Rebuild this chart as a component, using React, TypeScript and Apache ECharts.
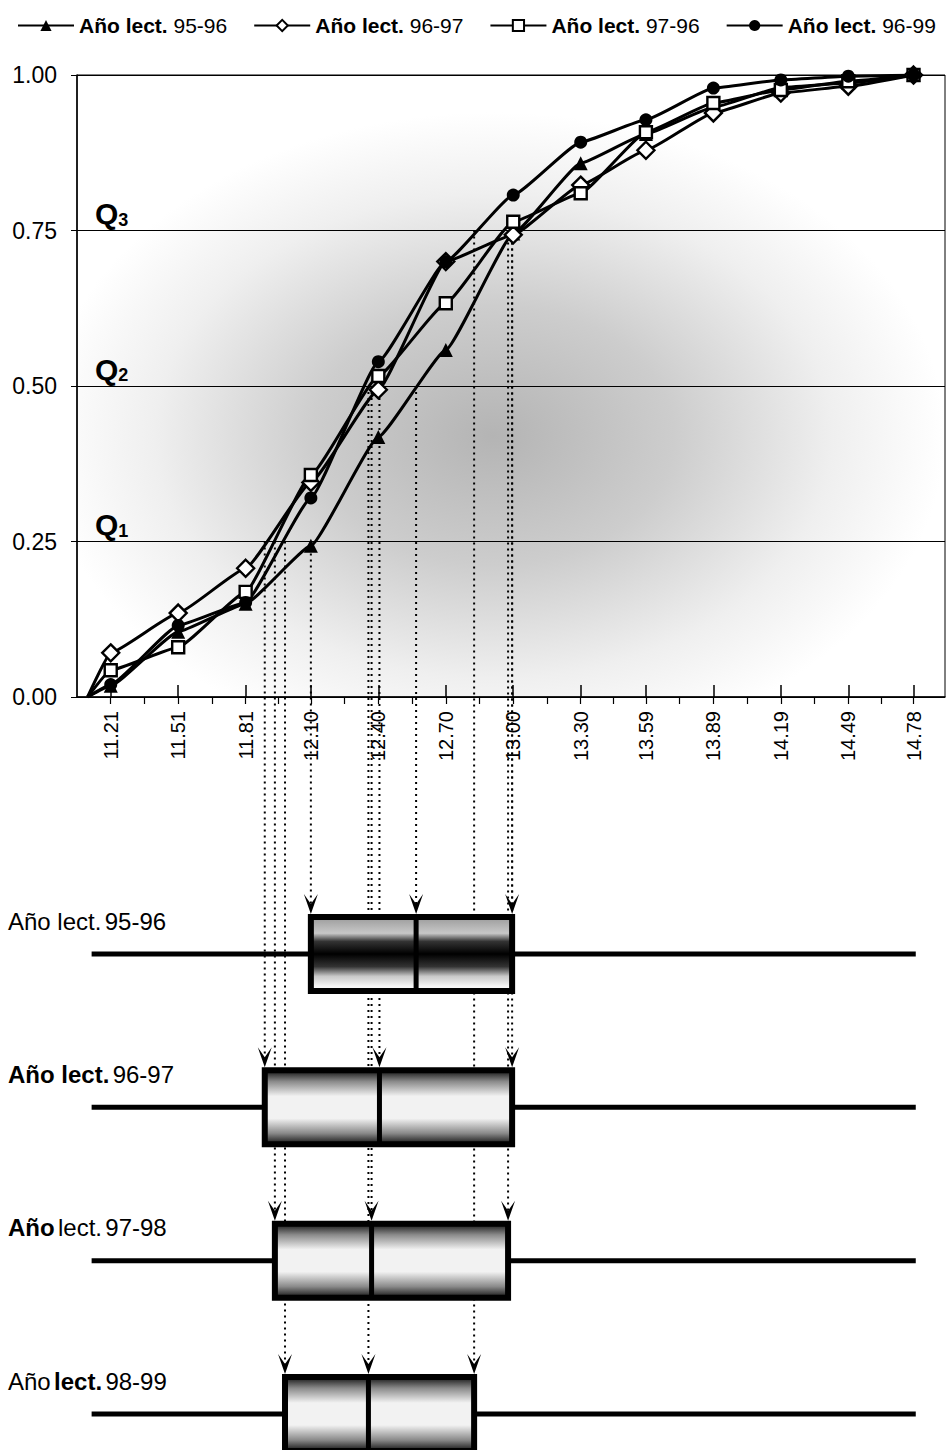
import React, { useEffect, useRef } from "react";
import * as echarts from "echarts";

// ---------- DATA ----------
const tickLabels = [11.21, 11.51, 11.81, 12.1, 12.4, 12.7, 13.0, 13.3, 13.59, 13.89, 14.19, 14.49, 14.78];
const originX = 11.107;
const seriesNames = ["Año lect. 95-96", "Año lect. 96-97", "Año lect. 97-96", "Año lect. 96-99"];
const cum9596 = [0.018, 0.105, 0.15, 0.243, 0.418, 0.558, 0.745, 0.858, 0.905, 0.948, 0.98, 0.987, 1.0];
const cum9697 = [0.071, 0.135, 0.207, 0.345, 0.494, 0.7, 0.743, 0.823, 0.879, 0.939, 0.971, 0.982, 1.0];
const cum9796 = [0.043, 0.08, 0.169, 0.357, 0.516, 0.633, 0.764, 0.81, 0.908, 0.955, 0.976, 0.99, 1.0];
const cum9699 = [0.02, 0.115, 0.152, 0.32, 0.539, 0.7, 0.807, 0.892, 0.928, 0.979, 0.992, 0.998, 1.0];
const quartileLevels = [0.25, 0.5, 0.75];
const quartileNames = ["1", "2", "3"];

const rowNames = ["95-96", "96-97", "97-98", "98-99"];
const whiskerLow = [11.125, 11.125, 11.125, 11.125];
const q1 = [12.1, 11.895, 11.94, 11.985];
const median = [12.568, 12.405, 12.37, 12.356];
const q3 = [12.995, 12.995, 12.977, 12.826];
const whiskerHigh = [14.79, 14.79, 14.79, 14.79];

// ---------- STYLE ----------
const FONT = '"Liberation Sans", Arial, sans-serif';
const NARROW = '"Liberation Sans Narrow", "Arial Narrow", "Liberation Sans", Arial, sans-serif';
const X_MIN = 11.06;
const X_MAX = 14.92;
const BOX_H = 37;
const rowLabelPrefix = ["{r|Año lect.}", "{b|Año lect.}", "{b|Año} {r|lect.}", "{r|Año} {b|lect.}"];

const symbols = [
  { symbol: "triangle", size: 14, fill: "#000" },
  { symbol: "diamond", size: 17, fill: "#fff" },
  { symbol: "rect", size: 12, fill: "#fff" },
  { symbol: "circle", size: 13, fill: "#000" },
];
const allCum = [cum9596, cum9697, cum9796, cum9699];

export default function App() {
  const ref = useRef<HTMLDivElement>(null);
  useEffect(() => {
    document.body.style.margin = "0";
    const chart = echarts.init(ref.current!, undefined, { renderer: "svg" });

    const minorTicks: number[] = [];
    for (let i = 0; i < tickLabels.length - 1; i++) minorTicks.push((tickLabels[i] + tickLabels[i + 1]) / 2);

    const bgGrad = new echarts.graphic.RadialGradient(0.48, 0.58, 0.52, [
      { offset: 0, color: "#b4b4b4" },
      { offset: 0.4, color: "#cdcdcd" },
      { offset: 0.75, color: "#efefef" },
      { offset: 1, color: "#ffffff" },
    ]);
    const gradFirst = new echarts.graphic.LinearGradient(0, 0, 0, 1, [
      { offset: 0, color: "#9a9a9a" },
      { offset: 0.22, color: "#c8c8c8" },
      { offset: 0.33, color: "#333" },
      { offset: 0.5, color: "#000" },
      { offset: 0.67, color: "#333" },
      { offset: 0.8, color: "#c8c8c8" },
      { offset: 0.93, color: "#f4f4f4" },
      { offset: 1, color: "#fff" },
    ]);
    const gradOther = new echarts.graphic.LinearGradient(0, 0, 0, 1, [
      { offset: 0, color: "#111" },
      { offset: 0.15, color: "#8a8a8a" },
      { offset: 0.35, color: "#f2f2f2" },
      { offset: 0.65, color: "#f2f2f2" },
      { offset: 0.85, color: "#8a8a8a" },
      { offset: 1, color: "#111" },
    ]);

    const lineSeries = seriesNames.map((name, si) => ({
      type: "line",
      name,
      xAxisIndex: 0,
      yAxisIndex: 0,
      smooth: 0.12,
      smoothMonotone: "x",
      symbol: symbols[si].symbol,
      symbolSize: symbols[si].size,
      lineStyle: { color: "#000", width: 3 },
      itemStyle: { color: symbols[si].fill, borderColor: "#000", borderWidth: symbols[si].fill === "#fff" ? 2.4 : 0 },
      z: 3,
      data: [
        { value: [originX, 0], symbol: "none" },
        ...tickLabels.map((x, i) => [x, allCum[si][i]]),
      ],
    }));

    const boxData = rowNames.map((_, i) => [i, whiskerLow[i], q1[i], median[i], q3[i], whiskerHigh[i]]);

    const option: any = {
      animation: false,
      backgroundColor: "#fff",
      legend: {
        top: 10,
        left: 12,
        itemWidth: 56,
        itemHeight: 14,
        itemGap: 26,
        data: seriesNames,
        formatter: (name: string) => {
          const idx = name.lastIndexOf(" ");
          return "{b|" + name.slice(0, idx) + "} {n|" + name.slice(idx + 1) + "}";
        },
        textStyle: {
          color: "#000",
          fontSize: 21,
          fontFamily: FONT,
          rich: {
            b: { fontSize: 21, fontWeight: "bold", fontFamily: NARROW, color: "#000" },
            n: { fontSize: 21, fontFamily: FONT, color: "#000" },
          },
        },
      },
      grid: [
        {
          left: 77,
          right: 6,
          top: 75,
          height: 622,
          show: true,
          borderColor: "#000",
          borderWidth: 1,
          backgroundColor: bgGrad,
          outerBoundsMode: "none",
        },
        { left: 77, right: 6, top: 954, bottom: 36, outerBoundsMode: "none" },
      ],
      xAxis: [
        {
          type: "value",
          gridIndex: 0,
          min: X_MIN,
          max: X_MAX,
          position: "bottom",
          axisLine: { lineStyle: { color: "#000", width: 1.5 } },
          axisTick: { customValues: tickLabels, inside: true, length: 12, lineStyle: { color: "#000", width: 1.5 } },
          axisLabel: {
            customValues: tickLabels,
            rotate: 90,
            margin: 14,
            fontSize: 20,
            color: "#000",
            fontFamily: FONT,
            formatter: (v: number) => v.toFixed(2),
          },
          splitLine: { show: false },
        },
        { type: "value", gridIndex: 1, min: X_MIN, max: X_MAX, show: false },
        {
          type: "value",
          gridIndex: 0,
          min: X_MIN,
          max: X_MAX,
          position: "bottom",
          axisLine: { show: false },
          axisTick: { customValues: [...tickLabels, ...minorTicks], length: 7, lineStyle: { color: "#000", width: 1.2 } },
          axisLabel: { show: false },
          splitLine: { show: false },
        },
      ],
      yAxis: [
        {
          type: "value",
          gridIndex: 0,
          min: 0,
          max: 1,
          interval: 0.25,
          axisLine: { show: true, lineStyle: { color: "#000", width: 1.5 } },
          axisTick: { show: true, length: 6, lineStyle: { color: "#000" } },
          axisLabel: { margin: 20, fontSize: 23, color: "#000", fontFamily: FONT, formatter: (v: number) => v.toFixed(2) },
          splitLine: { show: true, lineStyle: { color: "#000", width: 1 } },
        },
        { type: "value", gridIndex: 1, min: 0, max: 3, inverse: true, show: false },
      ],
      series: [
        ...lineSeries,
        {
          type: "custom",
          name: "boxes",
          xAxisIndex: 1,
          yAxisIndex: 1,
          clip: false,
          z: 4,
          encode: { x: [1, 2, 3, 4, 5], y: 0 },
          data: boxData,
          renderItem: (params: any, api: any) => {
            const row = api.value(0);
            const lo = api.coord([api.value(1), row]);
            const a = api.coord([api.value(2), row]);
            const m = api.coord([api.value(3), row]);
            const b = api.coord([api.value(4), row]);
            const hi = api.coord([api.value(5), row]);
            const cy = lo[1];
            return {
              type: "group",
              children: [
                { type: "line", shape: { x1: lo[0], y1: cy, x2: hi[0], y2: cy }, style: { stroke: "#000", lineWidth: 5 } },
                {
                  type: "rect",
                  shape: { x: a[0], y: cy - BOX_H, width: b[0] - a[0], height: 2 * BOX_H },
                  style: { fill: row === 0 ? gradFirst : gradOther, stroke: "#000", lineWidth: 6 },
                },
                { type: "line", shape: { x1: m[0], y1: cy - BOX_H, x2: m[0], y2: cy + BOX_H }, style: { stroke: "#000", lineWidth: 5 } },
                {
                  type: "text",
                  x: 8,
                  y: cy - 33,
                  style: {
                    text: rowLabelPrefix[row] + " {r|" + rowNames[row] + "}",
                    verticalAlign: "middle",
                    align: "left",
                    rich: {
                      r: { fontSize: 24, fontFamily: NARROW, color: "#000" },
                      b: { fontSize: 24, fontWeight: "bold", fontFamily: NARROW, color: "#000" },
                    },
                  },
                },
              ],
            };
          },
        },
      ],
    };

    chart.setOption(option);

    const graphics: any[] = [];
    // quartile labels Q1, Q2, Q3 on the cumulative chart
    quartileLevels.forEach((lv, k) => {
      const p = chart.convertToPixel({ xAxisIndex: 0, yAxisIndex: 0 } as any, [X_MIN, lv]) as number[];
      graphics.push({
        type: "text",
        z: 6,
        silent: true,
        x: p[0] + 18,
        y: p[1] - 2,
        style: {
          text: "{q|Q}{s|" + quartileNames[k] + "}",
          verticalAlign: "bottom",
          align: "left",
          rich: {
            q: { fontSize: 30, fontWeight: "bold", fontFamily: FONT, fill: "#000", lineHeight: 30 },
            s: { fontSize: 18, fontWeight: "bold", fontFamily: FONT, fill: "#000", lineHeight: 6, verticalAlign: "bottom" },
          },
        },
      });
    });
    // dotted guide lines from the cumulative curves down to the boxes
    rowNames.forEach((_, i) => {
      [q1[i], median[i], q3[i]].forEach((v, k) => {
        const p0 = chart.convertToPixel({ xAxisIndex: 0, yAxisIndex: 0 } as any, [v, quartileLevels[k]]) as number[];
        const p1 = chart.convertToPixel({ xAxisIndex: 1, yAxisIndex: 1 } as any, [v, i]) as number[];
        const x = p1[0];
        const tip = p1[1] - BOX_H - 3;
        graphics.push({
          type: "line",
          z: 1,
          silent: true,
          shape: { x1: p0[0], y1: p0[1], x2: x, y2: tip - 10 },
          style: { stroke: "#000", lineWidth: 2, lineDash: [2, 4] },
        });
        graphics.push({
          type: "polygon",
          z: 10,
          silent: true,
          shape: { points: [[x - 7, tip - 20], [x, tip - 10], [x + 7, tip - 20], [x, tip]] },
          style: { fill: "#000" },
        });
      });
    });
    chart.setOption({ graphic: graphics });

    return () => chart.dispose();
  }, []);
  return <div ref={ref} style={{ width: 951, height: 1450 }} />;
}
